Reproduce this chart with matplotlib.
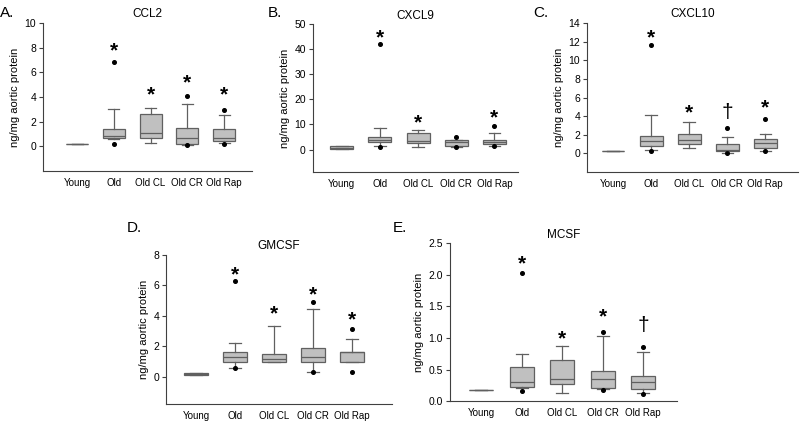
import numpy as np
import matplotlib.pyplot as plt

plt.rcParams['font.family'] = ['Liberation Sans', 'DejaVu Sans']

groups = ["Young", "Old", "Old CL", "Old CR", "Old Rap"]

# per-panel box statistics: whislo, q1, med, q3, whishi
ccl2_stats = [(0.2, 0.2, 0.2, 0.2, 0.2), (0.6, 0.7, 0.8, 1.4, 3.0), (0.3, 0.7, 1.1, 2.6, 3.1),
              (0.1, 0.2, 0.7, 1.5, 3.4), (0.25, 0.4, 0.7, 1.4, 2.5)]
ccl2_fliers = [[], [0.2, 6.8], [], [0.1, 4.05], [0.2, 2.9]]
ccl2_marks = ["", "*", "*", "*", "*"]
ccl2_mark_y = [0, 7.7, 4.2, 5.1, 4.2]

cxcl9_stats = [(0.3, 0.3, 0.8, 1.3, 1.3), (1.5, 3.0, 4.0, 5.0, 8.8), (1.2, 2.5, 3.5, 6.5, 7.8),
               (1.2, 1.5, 3.0, 3.8, 4.0), (1.5, 2.4, 3.0, 4.0, 6.8)]
cxcl9_fliers = [[], [1.2, 42], [], [1.2, 5.0], [1.3, 9.5]]
cxcl9_marks = ["", "*", "*", "", "*"]
cxcl9_mark_y = [0, 44.5, 10.5, 0, 12.5]

cxcl10_stats = [(0.3, 0.3, 0.3, 0.3, 0.3), (0.4, 0.8, 1.3, 1.9, 4.1), (0.6, 1.0, 1.4, 2.1, 3.4),
                (0.1, 0.3, 0.4, 1.0, 1.8), (0.3, 0.6, 1.1, 1.5, 2.1)]
cxcl10_fliers = [[], [0.3, 11.6], [], [0.1, 2.7], [0.3, 3.7]]
cxcl10_marks = ["", "*", "*", "\u2020", "*"]
cxcl10_mark_y = [0, 12.4, 4.3, 4.4, 4.9]

gmcsf_stats = [(0.1, 0.1, 0.2, 0.25, 0.25), (0.6, 0.95, 1.3, 1.6, 2.2), (0.95, 0.95, 1.15, 1.5, 3.3),
               (0.3, 0.95, 1.3, 1.85, 4.45), (0.95, 0.95, 1.6, 1.6, 2.45)]
gmcsf_fliers = [[], [0.6, 6.3], [], [0.3, 4.9], [0.3, 3.1]]
gmcsf_marks = ["", "*", "*", "*", "*"]
gmcsf_mark_y = [0, 6.7, 4.1, 5.4, 3.7]

mcsf_stats = [(0.17, 0.17, 0.17, 0.17, 0.17), (0.2, 0.22, 0.3, 0.54, 0.74), (0.13, 0.27, 0.35, 0.65, 0.87),
              (0.19, 0.2, 0.35, 0.48, 1.03), (0.13, 0.19, 0.3, 0.4, 0.78)]
mcsf_fliers = [[], [0.16, 2.03], [], [0.17, 1.1], [0.12, 0.85]]
mcsf_marks = ["", "*", "*", "*", "\u2020"]
mcsf_mark_y = [0, 2.17, 0.98, 1.33, 1.2]

panels = [
    ("A.", "CCL2", ccl2_stats, ccl2_fliers, ccl2_marks, ccl2_mark_y, (-2, 10), [0, 2, 4, 6, 8, 10], "%d"),
    ("B.", "CXCL9", cxcl9_stats, cxcl9_fliers, cxcl9_marks, cxcl9_mark_y, (-9, 50), [0, 10, 20, 30, 40, 50], "%d"),
    ("C.", "CXCL10", cxcl10_stats, cxcl10_fliers, cxcl10_marks, cxcl10_mark_y, (-2, 14), list(range(0, 15, 2)), "%d"),
    ("D.", "GMCSF", gmcsf_stats, gmcsf_fliers, gmcsf_marks, gmcsf_mark_y, (-1.8, 8), [0, 2, 4, 6, 8], "%d"),
    ("E.", "MCSF", mcsf_stats, mcsf_fliers, mcsf_marks, mcsf_mark_y, (0, 2.5), [0, 0.5, 1.0, 1.5, 2.0, 2.5], "%.1f"),
]

rects = [
    [0.054, 0.597, 0.261, 0.349],
    [0.391, 0.594, 0.257, 0.349],
    [0.734, 0.594, 0.264, 0.352],
    [0.2075, 0.047, 0.2825, 0.352],
    [0.5625, 0.054, 0.284, 0.3726],
]
xlims = [(0.08, 5.76), (0.24, 5.63), (0.32, 5.87), (0.23, 6.03), (0.23, 5.84)]
label_pos = [(0.0, 0.985), (0.335, 0.985), (0.666, 0.985), (0.158, 0.478), (0.491, 0.478)]

fig = plt.figure(figsize=(8, 4.24), dpi=100)
box_face = "#c0c0c0"
edge = "#606060"

for (lab, title, stats, fliers, marks, mark_y, ylim, yticks, fmt), rect, xl, lp in zip(panels, rects, xlims, label_pos):
    ax = fig.add_axes(rect)
    bstats = []
    for g, s, f in zip(groups, stats, fliers):
        bstats.append(dict(label=g, whislo=s[0], q1=s[1], med=s[2], q3=s[3], whishi=s[4], fliers=f))
    pos = np.arange(1, len(groups) + 1)
    ax.bxp(bstats, positions=pos, widths=0.6, patch_artist=True, showfliers=True,
           boxprops=dict(facecolor=box_face, edgecolor=edge, linewidth=0.9),
           medianprops=dict(color=edge, linewidth=0.9),
           whiskerprops=dict(color=edge, linewidth=0.9),
           capprops=dict(color=edge, linewidth=0.9), capwidths=0.3,
           flierprops=dict(marker="o", markersize=2.6, markerfacecolor="black", markeredgecolor="black"))
    for p, m, y in zip(pos, marks, mark_y):
        if m == "*":
            ax.text(p, y, "*", ha="center", va="center", fontsize=15, fontweight="bold")
        elif m:
            ax.text(p, y, m, ha="center", va="center", fontsize=15)
    ax.set_xlim(*xl)
    ax.set_ylim(*ylim)
    ax.set_yticks(yticks)
    ax.set_yticklabels([fmt % t for t in yticks])
    ax.spines["top"].set_visible(False)
    ax.spines["right"].set_visible(False)
    for sp in ("left", "bottom"):
        ax.spines[sp].set_color("#404040")
        ax.spines[sp].set_linewidth(0.8)
    ax.tick_params(axis="y", direction="out", length=3, width=0.8, color="#404040", labelsize=7.5, pad=2)
    ax.tick_params(axis="x", length=0, labelsize=7, pad=5)
    ax.set_ylabel("ng/mg aortic protein", fontsize=8, labelpad=3)
    ax.set_title(title, fontsize=8.5, pad=4)
    fig.text(lp[0], lp[1], lab, fontsize=11, va="top", ha="left")

fig.savefig("out.png", dpi=100)
